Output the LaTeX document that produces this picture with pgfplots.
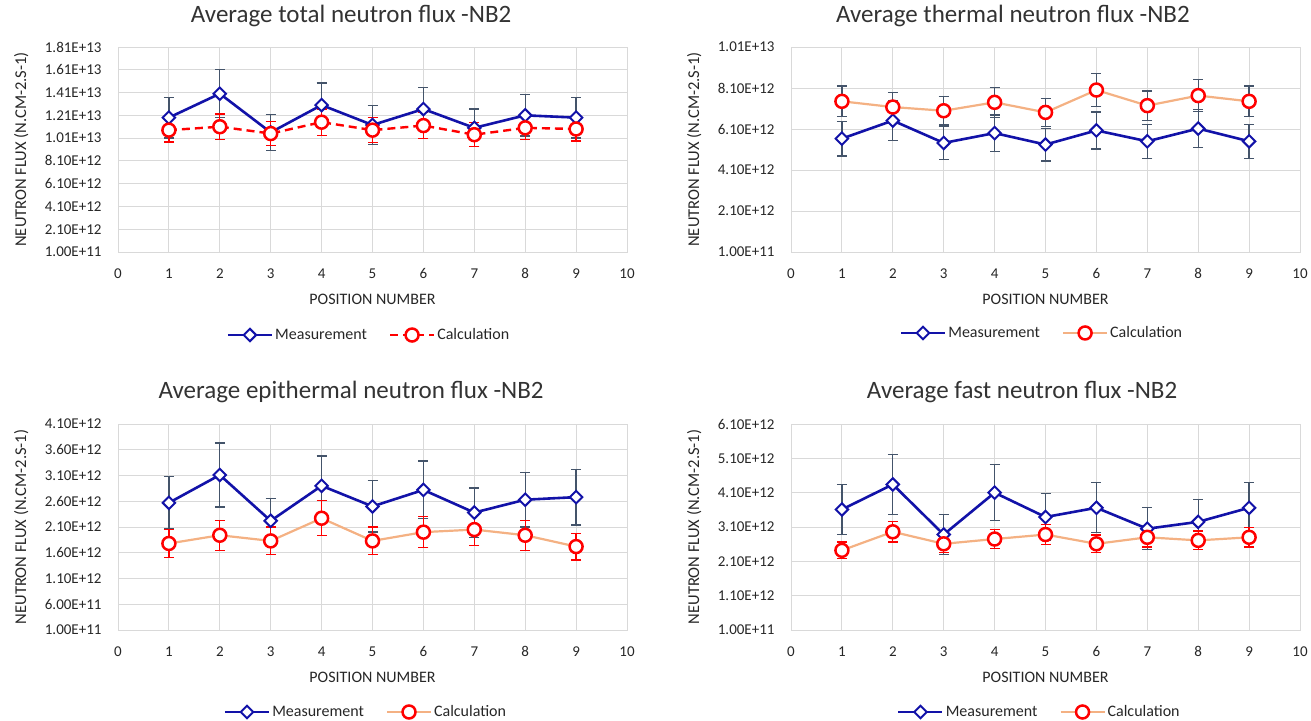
\documentclass[border=0pt]{standalone}
\usepackage{fontspec}
\setmainfont{Carlito}
\usepackage{pgfplots}
\pgfplotsset{compat=1.18}

\definecolor{measblue}{RGB}{18,18,168}
\definecolor{calcred}{RGB}{255,0,0}
\definecolor{calcorange}{RGB}{244,177,131}
\definecolor{errgray}{RGB}{68,84,106}

\pgfplotsset{
  panel/.style={
    scale only axis, width=509pt, height=205pt,
    xmin=0, xmax=10, xtick={0,...,10},
    grid=major, grid style={draw=black!15, line width=0.9pt},
    axis line style={draw=black!15, line width=0.9pt},
    major tick length=0pt,
    tick label style={font=\fontsize{15}{18}\selectfont, text=black!85},
    xticklabel style={yshift=-13pt}, yticklabel style={xshift=-13pt},
    /pgf/number format/assume math mode=true,
    scaled y ticks=false,
    xlabel={POSITION NUMBER}, ylabel={NEUTRON FLUX (N.CM-2.S-1)},
    every axis x label/.style={at={(axis description cs:0.5,-0.23)}, anchor=center,
      font=\fontsize{16}{19}\selectfont, text=black!85},
    every axis y label/.style={at={(axis description cs:-0.19,0.5)}, rotate=90, anchor=center,
      font=\fontsize{16.5}{19}\selectfont, text=black!85},
    title style={font=\fontsize{25}{29}\selectfont, text=black!80, anchor=center},
    legend columns=2, legend cell align=left,
    legend style={draw=none, fill=none, font=\fontsize{16}{19}\selectfont, text=black!85,
      anchor=center, /tikz/every even column/.append style={column sep=20pt}},
    legend image code/.code={\draw[mark repeat=2,mark phase=2] plot coordinates {(0pt,0pt) (22pt,0pt) (44pt,0pt)};},
  },
  meas/.style={draw=measblue, line width=2.6pt, mark=square*,
    mark options={fill=white, draw=measblue, line width=2pt, mark size=4.4pt, rotate=45, solid},
    error bars/.cd, y dir=both, y explicit, error mark=-,
    error bar style={draw=errgray, line width=1.3pt, solid},
    error mark options={rotate=90, draw=errgray, line width=1.3pt, mark size=5pt, solid}},
  calcdash/.style={draw=calcred, line width=2.4pt, dash pattern=on 8pt off 5pt, mark=*,
    mark options={fill=white, draw=calcred, line width=2.5pt, mark size=6.5pt, solid},
    error bars/.cd, y dir=both, y explicit, error mark=-,
    error bar style={draw=calcred, line width=1.3pt, solid},
    error mark options={rotate=90, draw=calcred, line width=1.3pt, mark size=5pt, solid}},
  calc/.style={draw=calcorange, line width=2.2pt, mark=*,
    mark options={fill=white, draw=calcred, line width=2.5pt, mark size=6.5pt},
    error bars/.cd, y dir=both, y explicit, error mark=-,
    error bar style={draw=#1, line width=1.3pt},
    error mark options={rotate=90, draw=#1, line width=1.3pt, mark size=5pt}},
}

\begin{document}
\begin{tikzpicture}
\useasboundingbox (0,0) rectangle (1311pt,720pt);

% total
\begin{axis}[panel, at={(118pt,468pt)}, anchor=south west,
  ymin=1e11, ymax=1.81e13,
  ytick={1e11,2.1e12,4.1e12,6.1e12,8.1e12,1.01e13,1.21e13,1.41e13,1.61e13,1.81e13},
  yticklabels={1.00E+11,2.10E+12,4.10E+12,6.10E+12,8.10E+12,1.01E+13,1.21E+13,1.41E+13,1.61E+13,1.81E+13},
  title={Average total neutron flux -NB2},
  title style={at={(axis description cs:0.458,1.124)}},
  legend style={at={(0.493,-0.405)}}]
\addplot[meas] coordinates {
  (1,1.190e13) +- (0,1.78e12) (2,1.400e13) +- (0,2.10e12) (3,1.060e13) +- (0,1.59e12)
  (4,1.300e13) +- (0,1.95e12) (5,1.125e13) +- (0,1.69e12) (6,1.265e13) +- (0,1.90e12)
  (7,1.100e13) +- (0,1.65e12) (8,1.210e13) +- (0,1.82e12) (9,1.190e13) +- (0,1.78e12)};
\addlegendentry{Measurement}
\addplot[calcdash] coordinates {
  (1,1.080e13) +- (0,1.05e12) (2,1.110e13) +- (0,1.11e12) (3,1.050e13) +- (0,1.05e12)
  (4,1.150e13) +- (0,1.15e12) (5,1.080e13) +- (0,1.08e12) (6,1.120e13) +- (0,1.12e12)
  (7,1.040e13) +- (0,1.04e12) (8,1.100e13) +- (0,1.05e12) (9,1.090e13) +- (0,1.05e12)};
\addlegendentry{Calculation}
\end{axis}

% thermal
\begin{axis}[panel, at={(791pt,468pt)}, anchor=south west,
  ymin=1e11, ymax=1.01e13,
  ytick={1e11,2.1e12,4.1e12,6.1e12,8.1e12,1.01e13},
  yticklabels={1.00E+11,2.10E+12,4.10E+12,6.10E+12,8.10E+12,1.01E+13},
  title={Average thermal neutron flux -NB2},
  title style={at={(axis description cs:0.436,1.124)}},
  legend style={at={(0.493,-0.395)}}]
\addplot[meas] coordinates {
  (1,5.63e12) +- (0,0.84e12) (2,6.51e12) +- (0,0.98e12) (3,5.42e12) +- (0,0.81e12)
  (4,5.90e12) +- (0,0.89e12) (5,5.34e12) +- (0,0.80e12) (6,6.03e12) +- (0,0.90e12)
  (7,5.50e12) +- (0,0.83e12) (8,6.12e12) +- (0,0.92e12) (9,5.50e12) +- (0,0.83e12)};
\addlegendentry{Measurement}
\addplot[calc=errgray] coordinates {
  (1,7.45e12) +- (0,0.75e12) (2,7.17e12) +- (0,0.72e12) (3,6.99e12) +- (0,0.70e12)
  (4,7.40e12) +- (0,0.74e12) (5,6.91e12) +- (0,0.69e12) (6,8.00e12) +- (0,0.80e12)
  (7,7.24e12) +- (0,0.72e12) (8,7.73e12) +- (0,0.77e12) (9,7.45e12) +- (0,0.75e12)};
\addlegendentry{Calculation}
\end{axis}

% epithermal
\begin{axis}[panel, at={(118pt,90pt)}, anchor=south west, height=206pt,
  ymin=1e11, ymax=4.1e12,
  ytick={1e11,6e11,1.1e12,1.6e12,2.1e12,2.6e12,3.1e12,3.6e12,4.1e12},
  yticklabels={1.00E+11,6.00E+11,1.10E+12,1.60E+12,2.10E+12,2.60E+12,3.10E+12,3.60E+12,4.10E+12},
  title={Average epithermal neutron flux -NB2},
  title style={at={(axis description cs:0.458,1.126)}},
  legend style={at={(0.487,-0.398)}}]
\addplot[meas] coordinates {
  (1,2.57e12) +- (0,0.51e12) (2,3.11e12) +- (0,0.62e12) (3,2.22e12) +- (0,0.44e12)
  (4,2.90e12) +- (0,0.58e12) (5,2.50e12) +- (0,0.50e12) (6,2.82e12) +- (0,0.56e12)
  (7,2.38e12) +- (0,0.48e12) (8,2.63e12) +- (0,0.53e12) (9,2.68e12) +- (0,0.54e12)};
\addlegendentry{Measurement}
\addplot[calc=calcred] coordinates {
  (1,1.78e12) +- (0,0.27e12) (2,1.94e12) +- (0,0.29e12) (3,1.83e12) +- (0,0.27e12)
  (4,2.27e12) +- (0,0.34e12) (5,1.83e12) +- (0,0.27e12) (6,2.00e12) +- (0,0.30e12)
  (7,2.05e12) +- (0,0.31e12) (8,1.94e12) +- (0,0.29e12) (9,1.72e12) +- (0,0.26e12)};
\addlegendentry{Calculation}
\end{axis}

% fast
\begin{axis}[panel, at={(791pt,90pt)}, anchor=south west, height=206pt,
  ymin=1e11, ymax=6.1e12,
  ytick={1e11,1.1e12,2.1e12,3.1e12,4.1e12,5.1e12,6.1e12},
  yticklabels={1.00E+11,1.10E+12,2.10E+12,3.10E+12,4.10E+12,5.10E+12,6.10E+12},
  title={Average fast neutron flux -NB2},
  title style={at={(axis description cs:0.454,1.124)}},
  legend style={at={(0.488,-0.398)}}]
\addplot[meas] coordinates {
  (1,3.61e12) +- (0,0.72e12) (2,4.34e12) +- (0,0.87e12) (3,2.88e12) +- (0,0.58e12)
  (4,4.10e12) +- (0,0.82e12) (5,3.39e12) +- (0,0.68e12) (6,3.66e12) +- (0,0.73e12)
  (7,3.05e12) +- (0,0.61e12) (8,3.25e12) +- (0,0.65e12) (9,3.66e12) +- (0,0.73e12)};
\addlegendentry{Measurement}
\addplot[calc=calcred] coordinates {
  (1,2.42e12) +- (0,0.24e12) (2,2.96e12) +- (0,0.30e12) (3,2.61e12) +- (0,0.26e12)
  (4,2.75e12) +- (0,0.28e12) (5,2.88e12) +- (0,0.29e12) (6,2.61e12) +- (0,0.26e12)
  (7,2.80e12) +- (0,0.28e12) (8,2.71e12) +- (0,0.27e12) (9,2.80e12) +- (0,0.28e12)};
\addlegendentry{Calculation}
\end{axis}
\end{tikzpicture}
\end{document}
